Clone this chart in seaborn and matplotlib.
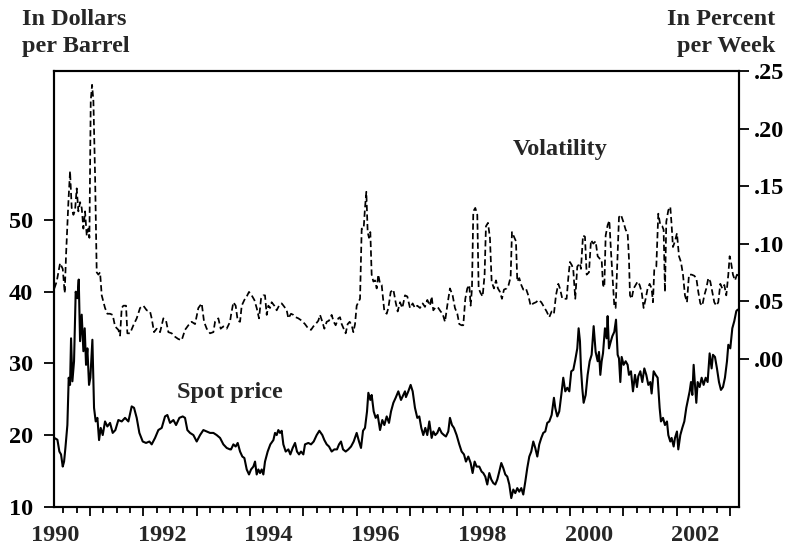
import matplotlib
matplotlib.use("Agg")
import matplotlib.pyplot as plt
import matplotlib.transforms as mtransforms
from matplotlib.ticker import FixedLocator, NullFormatter
import pandas as pd
import seaborn as sns

# ---------------------------------------------------------------------------
# Data (decimal years)
# ---------------------------------------------------------------------------

price_years = [
    1990.33, 1990.388, 1990.425, 1990.456, 1990.488, 1990.513, 1990.538, 1990.575,
    1990.6, 1990.625, 1990.644, 1990.669, 1990.7, 1990.731, 1990.763, 1990.788,
    1990.813, 1990.844, 1990.875, 1990.9, 1990.925, 1990.95, 1990.981, 1991.006,
    1991.044, 1991.075, 1991.106, 1991.138, 1991.169, 1991.2, 1991.238, 1991.281,
    1991.325, 1991.375, 1991.425, 1991.475, 1991.531, 1991.594, 1991.656, 1991.719,
    1991.781, 1991.825, 1991.875, 1991.925, 1991.988, 1992.05, 1992.113, 1992.156,
    1992.219, 1992.281, 1992.344, 1992.406, 1992.45, 1992.5, 1992.563, 1992.613,
    1992.675, 1992.738, 1992.781, 1992.825, 1992.875, 1992.938, 1993.0, 1993.063,
    1993.125, 1993.188, 1993.25, 1993.313, 1993.375, 1993.438, 1993.5, 1993.563,
    1993.625, 1993.644, 1993.688, 1993.731, 1993.769, 1993.813, 1993.856, 1993.894,
    1993.938, 1993.981, 1994.019, 1994.063, 1994.094, 1994.125, 1994.156, 1994.188,
    1994.219, 1994.25, 1994.281, 1994.331, 1994.381, 1994.438, 1994.469, 1994.5,
    1994.531, 1994.563, 1994.594, 1994.625, 1994.669, 1994.719, 1994.756, 1994.8,
    1994.844, 1994.881, 1994.919, 1994.956, 1995.0, 1995.031, 1995.094, 1995.144,
    1995.194, 1995.25, 1995.3, 1995.356, 1995.394, 1995.438, 1995.481, 1995.531,
    1995.581, 1995.631, 1995.669, 1995.706, 1995.744, 1995.794, 1995.844, 1995.894,
    1995.944, 1996.0, 1996.044, 1996.081, 1996.119, 1996.156, 1996.194, 1996.219,
    1996.256, 1996.281, 1996.319, 1996.356, 1996.394, 1996.438, 1996.481, 1996.519,
    1996.563, 1996.606, 1996.644, 1996.688, 1996.731, 1996.781, 1996.831, 1996.875,
    1996.906, 1996.924, 1996.968, 1997.012, 1997.05, 1997.093, 1997.137, 1997.174,
    1997.212, 1997.249, 1997.287, 1997.324, 1997.362, 1997.406, 1997.437, 1997.474,
    1997.512, 1997.549, 1997.593, 1997.637, 1997.674, 1997.718, 1997.749, 1997.787,
    1997.824, 1997.874, 1997.924, 1997.968, 1998.012, 1998.049, 1998.093, 1998.137,
    1998.174, 1998.212, 1998.249, 1998.299, 1998.343, 1998.374, 1998.412, 1998.449,
    1998.487, 1998.524, 1998.562, 1998.599, 1998.637, 1998.674, 1998.712, 1998.749,
    1998.787, 1998.824, 1998.862, 1998.899, 1998.937, 1998.974, 1999.012, 1999.049,
    1999.087, 1999.124, 1999.162, 1999.199, 1999.237, 1999.274, 1999.312, 1999.349,
    1999.387, 1999.424, 1999.462, 1999.499, 1999.537, 1999.574, 1999.612, 1999.656,
    1999.699, 1999.724, 1999.762, 1999.799, 1999.837, 1999.874, 1999.912, 1999.949,
    1999.987, 2000.024, 2000.062, 2000.099, 2000.137, 2000.162, 2000.187, 2000.206,
    2000.231, 2000.256, 2000.294, 2000.331, 2000.369, 2000.406, 2000.444, 2000.481,
    2000.519, 2000.544, 2000.569, 2000.594, 2000.619, 2000.656, 2000.688, 2000.706,
    2000.731, 2000.763, 2000.794, 2000.831, 2000.863, 2000.894, 2000.919, 2000.944,
    2000.969, 2001.006, 2001.044, 2001.081, 2001.106, 2001.144, 2001.181, 2001.219,
    2001.256, 2001.281, 2001.319, 2001.356, 2001.394, 2001.431, 2001.469, 2001.506,
    2001.531, 2001.569, 2001.606, 2001.644, 2001.681, 2001.706, 2001.744, 2001.781,
    2001.819, 2001.844, 2001.881, 2001.906, 2001.944, 2001.969, 2002.006, 2002.031,
    2002.069, 2002.106, 2002.144, 2002.181, 2002.219, 2002.244, 2002.269, 2002.294,
    2002.319, 2002.344, 2002.369, 2002.394, 2002.431, 2002.469, 2002.506, 2002.544,
    2002.581, 2002.619, 2002.656, 2002.681, 2002.719, 2002.756, 2002.794, 2002.831,
    2002.869, 2002.906, 2002.944, 2002.969, 2003.006, 2003.044, 2003.081, 2003.119,
    2003.144,
]

price_values = [
    19.6, 19.35, 17.7, 17.3, 15.6, 16.3, 18.2, 21.4,
    28.0, 27.0, 33.5, 27.5, 30.3, 40.0, 39.1, 41.7,
    33.1, 36.8, 31.7, 34.9, 29.8, 32.1, 27.0, 28.0,
    33.3, 23.8, 21.9, 22.4, 19.3, 21.0, 20.0, 21.9,
    21.2, 21.7, 20.3, 20.7, 22.1, 21.9, 22.4, 21.9,
    24.0, 23.8, 22.4, 20.3, 19.1, 18.9, 19.1, 18.7,
    19.6, 20.7, 21.0, 22.6, 22.8, 21.7, 22.1, 21.4,
    22.4, 22.6, 22.4, 20.7, 20.3, 20.0, 19.1, 20.0,
    20.7, 20.5, 20.3, 20.3, 20.0, 19.6, 18.7, 18.2,
    18.0, 18.0, 18.7, 18.4, 18.9, 17.7, 17.0, 16.8,
    15.2, 14.5, 15.2, 15.6, 16.3, 14.5, 15.2, 14.7,
    15.2, 14.5, 16.3, 17.7, 18.7, 19.3, 20.3, 20.0,
    20.7, 20.3, 20.6, 18.7, 17.7, 18.0, 17.3, 18.2,
    18.9, 17.7, 17.3, 17.7, 17.3, 18.7, 18.9, 18.7,
    19.1, 20.0, 20.6, 20.0, 19.3, 18.7, 18.4, 17.7,
    18.0, 18.0, 18.7, 19.1, 18.0, 17.7, 18.0, 18.4,
    19.1, 20.3, 19.1, 18.2, 20.6, 21.0, 23.3, 25.9,
    24.9, 25.6, 23.3, 22.4, 22.8, 20.7, 22.1, 21.4,
    22.6, 21.7, 23.3, 24.5, 25.2, 26.1, 24.9, 25.6,
    26.1, 25.3, 26.1, 27.0, 26.1, 23.8, 22.4, 22.6,
    21.0, 20.0, 21.0, 20.0, 21.9, 19.6, 20.5, 20.0,
    20.3, 21.0, 20.3, 20.0, 19.8, 20.5, 22.4, 21.4,
    21.0, 20.0, 18.7, 17.7, 17.3, 16.3, 17.0, 16.1,
    14.7, 16.3, 15.6, 15.6, 14.9, 14.7, 14.2, 13.1,
    14.7, 13.8, 13.3, 13.1, 13.8, 14.9, 16.1, 15.4,
    14.5, 14.2, 13.1, 11.2, 12.4, 11.9, 12.6, 12.1,
    12.6, 11.7, 13.5, 15.4, 17.0, 17.7, 19.1, 18.2,
    17.0, 18.7, 19.6, 20.3, 20.5, 21.7, 21.9, 22.8,
    25.2, 23.8, 22.6, 23.3, 25.6, 28.0, 26.1, 26.6,
    26.1, 28.9, 29.1, 30.5, 32.1, 34.9, 33.1, 29.3,
    26.5, 24.5, 25.6, 28.4, 30.3, 31.2, 35.2, 31.6,
    30.3, 31.6, 28.4, 30.3, 31.4, 34.9, 33.5, 36.6,
    32.1, 33.0, 33.8, 34.4, 36.1, 31.2, 30.7, 27.4,
    30.9, 29.8, 30.3, 29.8, 28.4, 28.9, 26.1, 28.4,
    26.7, 28.2, 28.9, 27.4, 29.3, 28.4, 27.0, 27.4,
    25.8, 28.9, 28.4, 28.0, 23.8, 21.9, 22.4, 21.4,
    21.9, 20.0, 19.1, 19.6, 18.4, 19.6, 20.5, 18.0,
    20.0, 21.0, 21.9, 23.8, 25.2, 26.1, 27.4, 25.6,
    29.8, 27.0, 24.5, 27.4, 26.7, 28.0, 27.0, 28.0,
    27.4, 31.4, 29.3, 31.2, 30.9, 29.3, 27.4, 26.3,
    26.7, 28.0, 30.3, 32.6, 32.1, 34.9, 35.9, 37.3,
    37.5,
]

vol_years = [
    1990.33, 1990.375, 1990.438, 1990.488, 1990.525, 1990.55, 1990.594, 1990.625,
    1990.656, 1990.688, 1990.719, 1990.75, 1990.781, 1990.813, 1990.844, 1990.875,
    1990.906, 1990.938, 1990.969, 1990.988, 1991.013, 1991.038, 1991.063, 1991.094,
    1991.125, 1991.156, 1991.188, 1991.219, 1991.281, 1991.325, 1991.375, 1991.425,
    1991.469, 1991.531, 1991.563, 1991.594, 1991.625, 1991.675, 1991.7, 1991.75,
    1991.813, 1991.875, 1991.938, 1992.0, 1992.063, 1992.125, 1992.156, 1992.2,
    1992.25, 1992.313, 1992.375, 1992.425, 1992.469, 1992.531, 1992.594, 1992.656,
    1992.719, 1992.781, 1992.844, 1992.906, 1992.969, 1993.031, 1993.094, 1993.138,
    1993.188, 1993.25, 1993.313, 1993.344, 1993.406, 1993.45, 1993.5, 1993.563,
    1993.625, 1993.644, 1993.688, 1993.731, 1993.769, 1993.813, 1993.844, 1993.894,
    1993.938, 1993.981, 1994.031, 1994.081, 1994.125, 1994.169, 1994.206, 1994.25,
    1994.281, 1994.313, 1994.344, 1994.375, 1994.406, 1994.456, 1994.5, 1994.544,
    1994.594, 1994.644, 1994.688, 1994.719, 1994.769, 1994.813, 1994.856, 1994.906,
    1994.969, 1995.031, 1995.094, 1995.144, 1995.188, 1995.231, 1995.281, 1995.313,
    1995.356, 1995.394, 1995.438, 1995.481, 1995.531, 1995.569, 1995.606, 1995.656,
    1995.688, 1995.719, 1995.756, 1995.794, 1995.831, 1995.869, 1995.906, 1995.938,
    1995.969, 1996.0, 1996.031, 1996.063, 1996.094, 1996.131, 1996.156, 1996.181,
    1996.206, 1996.231, 1996.256, 1996.281, 1996.313, 1996.344, 1996.375, 1996.406,
    1996.438, 1996.469, 1996.519, 1996.563, 1996.594, 1996.638, 1996.688, 1996.731,
    1996.769, 1996.813, 1996.856, 1996.906, 1996.95, 1997.0, 1997.05, 1997.093,
    1997.137, 1997.187, 1997.237, 1997.281, 1997.325, 1997.374, 1997.406, 1997.437,
    1997.487, 1997.531, 1997.574, 1997.612, 1997.656, 1997.699, 1997.749, 1997.799,
    1997.843, 1997.887, 1997.924, 1997.968, 1997.999, 1998.037, 1998.074, 1998.112,
    1998.137, 1998.162, 1998.187, 1998.224, 1998.262, 1998.287, 1998.324, 1998.362,
    1998.399, 1998.424, 1998.462, 1998.499, 1998.531, 1998.574, 1998.612, 1998.649,
    1998.687, 1998.724, 1998.762, 1998.812, 1998.849, 1998.887, 1998.912, 1998.949,
    1998.987, 1999.012, 1999.049, 1999.087, 1999.124, 1999.174, 1999.218, 1999.262,
    1999.312, 1999.362, 1999.412, 1999.462, 1999.512, 1999.562, 1999.612, 1999.656,
    1999.699, 1999.737, 1999.781, 1999.812, 1999.856, 1999.899, 1999.937, 1999.968,
    1999.999, 2000.037, 2000.062, 2000.099, 2000.137, 2000.187, 2000.206, 2000.244,
    2000.281, 2000.313, 2000.356, 2000.394, 2000.438, 2000.481, 2000.519, 2000.556,
    2000.594, 2000.619, 2000.644, 2000.669, 2000.706, 2000.738, 2000.769, 2000.8,
    2000.831, 2000.856, 2000.888, 2000.919, 2000.956, 2001.0, 2001.044, 2001.081,
    2001.106, 2001.125, 2001.156, 2001.194, 2001.231, 2001.269, 2001.306, 2001.344,
    2001.381, 2001.419, 2001.456, 2001.494, 2001.531, 2001.556, 2001.581, 2001.619,
    2001.656, 2001.694, 2001.731, 2001.756, 2001.781, 2001.806, 2001.844, 2001.881,
    2001.906, 2001.931, 2001.969, 2002.006, 2002.044, 2002.081, 2002.119, 2002.156,
    2002.194, 2002.231, 2002.281, 2002.331, 2002.369, 2002.406, 2002.444, 2002.481,
    2002.519, 2002.556, 2002.594, 2002.631, 2002.669, 2002.706, 2002.744, 2002.781,
    2002.819, 2002.856, 2002.894, 2002.931, 2002.969, 2002.994, 2003.019, 2003.056,
    2003.094, 2003.131, 2003.156,
]

vol_values = [
    0.061, 0.067, 0.083, 0.078, 0.057, 0.090, 0.136, 0.163,
    0.131, 0.125, 0.129, 0.148, 0.128, 0.136, 0.131, 0.113,
    0.128, 0.107, 0.113, 0.105, 0.224, 0.238, 0.224, 0.160,
    0.075, 0.073, 0.075, 0.055, 0.044, 0.039, 0.039, 0.038,
    0.028, 0.025, 0.020, 0.044, 0.046, 0.046, 0.022, 0.022,
    0.029, 0.035, 0.044, 0.046, 0.042, 0.041, 0.035, 0.023,
    0.026, 0.023, 0.035, 0.033, 0.023, 0.022, 0.019, 0.017,
    0.016, 0.025, 0.029, 0.032, 0.030, 0.044, 0.048, 0.032,
    0.026, 0.022, 0.023, 0.032, 0.035, 0.026, 0.028, 0.026,
    0.032, 0.038, 0.049, 0.046, 0.033, 0.032, 0.046, 0.051,
    0.054, 0.058, 0.055, 0.051, 0.044, 0.035, 0.052, 0.055,
    0.055, 0.038, 0.046, 0.044, 0.049, 0.046, 0.042, 0.046,
    0.048, 0.045, 0.042, 0.035, 0.039, 0.038, 0.036, 0.035,
    0.033, 0.030, 0.026, 0.025, 0.028, 0.030, 0.033, 0.038,
    0.032, 0.026, 0.032, 0.033, 0.038, 0.032, 0.029, 0.035,
    0.036, 0.030, 0.026, 0.022, 0.030, 0.032, 0.029, 0.023,
    0.030, 0.046, 0.049, 0.052, 0.113, 0.113, 0.131, 0.145,
    0.110, 0.105, 0.110, 0.073, 0.067, 0.068, 0.061, 0.073,
    0.065, 0.064, 0.041, 0.039, 0.044, 0.058, 0.060, 0.049,
    0.041, 0.049, 0.044, 0.055, 0.054, 0.044, 0.048, 0.044,
    0.046, 0.044, 0.048, 0.045, 0.051, 0.046, 0.054, 0.042,
    0.045, 0.044, 0.041, 0.039, 0.032, 0.046, 0.061, 0.055,
    0.044, 0.039, 0.030, 0.029, 0.029, 0.052, 0.061, 0.064,
    0.046, 0.061, 0.128, 0.131, 0.125, 0.061, 0.057, 0.054,
    0.073, 0.115, 0.118, 0.105, 0.067, 0.061, 0.068, 0.061,
    0.058, 0.052, 0.060, 0.061, 0.064, 0.071, 0.110, 0.106,
    0.102, 0.067, 0.070, 0.064, 0.060, 0.061, 0.055, 0.046,
    0.048, 0.049, 0.051, 0.049, 0.045, 0.041, 0.036, 0.041,
    0.039, 0.055, 0.065, 0.061, 0.052, 0.052, 0.052, 0.070,
    0.084, 0.081, 0.077, 0.052, 0.080, 0.083, 0.078, 0.107,
    0.106, 0.073, 0.075, 0.103, 0.100, 0.102, 0.089, 0.087,
    0.086, 0.064, 0.062, 0.107, 0.116, 0.120, 0.093, 0.070,
    0.046, 0.044, 0.084, 0.123, 0.125, 0.119, 0.112, 0.109,
    0.087, 0.055, 0.052, 0.061, 0.064, 0.067, 0.064, 0.058,
    0.044, 0.052, 0.061, 0.065, 0.061, 0.049, 0.078, 0.080,
    0.126, 0.116, 0.115, 0.112, 0.058, 0.119, 0.129, 0.132,
    0.116, 0.097, 0.102, 0.109, 0.089, 0.084, 0.073, 0.055,
    0.049, 0.073, 0.073, 0.072, 0.070, 0.058, 0.048, 0.046,
    0.055, 0.061, 0.070, 0.067, 0.058, 0.049, 0.046, 0.049,
    0.065, 0.061, 0.064, 0.055, 0.073, 0.089, 0.084, 0.073,
    0.068, 0.073, 0.072,
]

year_labels = [1990, 1992, 1994, 1996, 1998, 2000, 2002]
price_ticks = [10, 20, 30, 40, 50]
vol_ticks = [0.00, 0.05, 0.10, 0.15, 0.20, 0.25]
vol_tick_labels = [".00", ".05", ".10", ".15", ".20", ".25"]


def main():
    sns.set_style("ticks")
    plt.rcParams["font.family"] = ["Liberation Serif", "DejaVu Serif"]
    plt.rcParams["font.weight"] = "bold"
    plt.rcParams["axes.linewidth"] = 1.5

    price = pd.DataFrame({"year": price_years, "price": price_values})
    vol = pd.DataFrame({"year": vol_years, "vol": vol_values})

    fig = plt.figure(figsize=(7.94, 5.48), dpi=100)
    ax = fig.add_axes([0.068, 0.0748, 0.8627, 0.7956])
    ax2 = ax.twinx()

    sns.lineplot(data=price, x="year", y="price", ax=ax, color="black",
                 lw=1.5, estimator=None, sort=False)
    sns.lineplot(data=vol, x="year", y="vol", ax=ax2, color="black",
                 lw=1.25, estimator=None, sort=False, linestyle=(0, (3.6, 1.9)))

    # --- axes ranges ---
    ax.set_xlim(1990.324, 2003.169)
    ax.set_ylim(9.96, 70.8)
    ax2.set_ylim(-0.129, 0.25)

    for a in (ax, ax2):
        a.set_xlabel("")
        a.set_ylabel("")
        for side in ("top", "right", "left", "bottom"):
            a.spines[side].set_visible(True)
            a.spines[side].set_color("black")
            a.spines[side].set_linewidth(1.5)

    # --- left axis ---
    ax.set_yticks(price_ticks)
    ax.set_yticklabels([str(t) for t in price_ticks])
    ax.tick_params(axis="y", direction="out", length=7.2, width=1.3,
                   labelsize=17.5, pad=8, colors="black")

    # --- right axis ---
    ax2.set_yticks(vol_ticks)
    ax2.set_yticklabels(vol_tick_labels)
    ax2.tick_params(axis="y", direction="out", length=7.2, width=1.3,
                    labelsize=17.5, pad=3.5, colors="black")

    # --- x axis: year ticks long, quarter ticks short, labels set off ---
    ax.xaxis.set_major_locator(FixedLocator(range(1991, 2004)))
    ax.xaxis.set_major_formatter(NullFormatter())
    quarters = [y + q / 4 for y in range(1990, 2004) for q in (1, 2, 3)]
    ax.xaxis.set_minor_locator(FixedLocator(quarters))
    ax.tick_params(axis="x", which="major", direction="out", length=6.5,
                   width=1.3, colors="black")
    ax.tick_params(axis="x", which="minor", direction="out", length=4.3,
                   width=1.3, colors="black")

    trans = mtransforms.blended_transform_factory(ax.transData, ax.transAxes)
    for yr in year_labels:
        ax.text(yr + 0.35, -0.079, str(yr), transform=trans, ha="center",
                va="baseline", fontsize=17.5, fontweight="bold", clip_on=False)

    # --- series labels ---
    ax2.text(1999.82, 0.177, "Volatility", ha="center", va="baseline",
             fontsize=17.5, fontweight="bold")
    ax.text(1993.615, 25.2, "Spot price", ha="center", va="baseline",
            fontsize=17.5, fontweight="bold")

    # --- unit titles ---
    fig.text(0.0273, 0.9544, "In Dollars", ha="left", va="baseline",
             fontsize=17.5, fontweight="bold")
    fig.text(0.0273, 0.9057, "per Barrel", ha="left", va="baseline",
             fontsize=17.5, fontweight="bold")
    fig.text(0.976, 0.9544, "In Percent", ha="right", va="baseline",
             fontsize=17.5, fontweight="bold")
    fig.text(0.976, 0.9057, "per Week", ha="right", va="baseline",
             fontsize=17.5, fontweight="bold")

    fig.savefig("out.png", dpi=100)
    plt.close(fig)


if __name__ == "__main__":
    main()
